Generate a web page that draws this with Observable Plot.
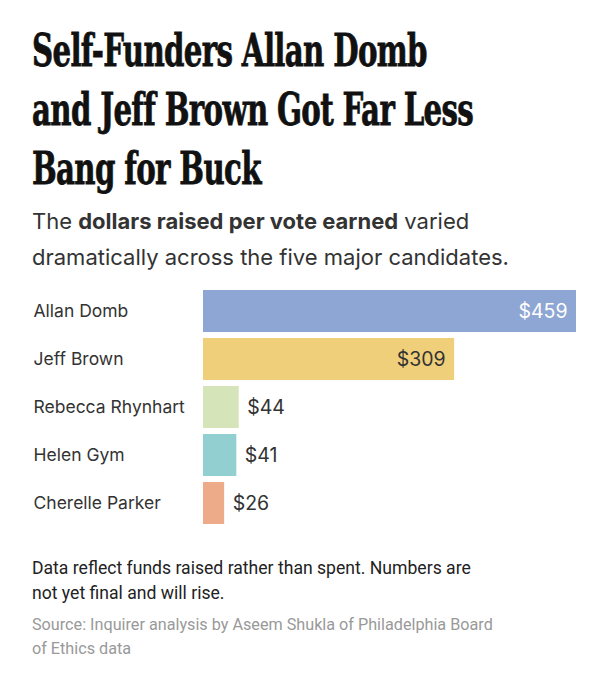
<!DOCTYPE html>
<html>
<head>
<meta charset="utf-8">
<script src="https://cdn.jsdelivr.net/npm/d3@7"></script>
<script src="https://cdn.jsdelivr.net/npm/@observablehq/plot@0.6"></script>
<style>
  html, body { margin: 0; padding: 0; background: #fff; }
  body { width: 608px; height: 680px; overflow: hidden; position: relative; font-family: Inter, "Noto Sans", sans-serif; }
  #title { position: absolute; left: 32px; top: 20.5px; width: 800px; margin: 0;
    font-family: "DejaVu Serif", serif; font-weight: bold; font-size: 44px; line-height: 59px; color: #111;
    -webkit-text-stroke: 0.8px #111;
    letter-spacing: -1px; transform: scaleX(0.665); transform-origin: 0 0; white-space: nowrap; }
  #subtitle { position: absolute; left: 32px; top: 203px; width: 570px; margin: 0;
    font-size: 22px; line-height: 36px; color: #333; white-space: nowrap; }
  #subtitle b { font-weight: 700; }
  #chart { position: absolute; left: 0; top: 270px; }
  #note { position: absolute; left: 32px; top: 556px; width: 570px; margin: 0; font-family: Roboto, sans-serif; font-size: 17.6px; line-height: 25px; color: #222; white-space: nowrap; }
  #source { position: absolute; left: 32px; top: 613px; width: 570px; margin: 0; font-family: Roboto, sans-serif; font-size: 16.2px; line-height: 24px; color: #999; white-space: nowrap; }
</style>
</head>
<body>
<h1 id="title">Self-Funders Allan Domb<br>and Jeff Brown Got Far Less<br>Bang for Buck</h1>
<p id="subtitle">The <b>dollars raised per vote earned</b> varied<br>dramatically across the five major candidates.</p>
<div id="chart"></div>
<p id="note">Data reflect funds raised rather than spent. Numbers are<br>not yet final and will rise.</p>
<p id="source">Source: Inquirer analysis by Aseem Shukla of Philadelphia Board<br>of Ethics data</p>
<script>
const candidates = ["Allan Domb", "Jeff Brown", "Rebecca Rhynhart", "Helen Gym", "Cherelle Parker"];
const dollarsPerVote = [459, 309, 44, 41, 26];
const barColors = ["#8ea6d3", "#f0cf7a", "#d5e5b9", "#92cfd1", "#edab8a"];
const valueLabelColors = ["#ffffff", "#333333", "#333333", "#333333", "#333333"];

const data = candidates.map((name, i) => ({
  name, value: dollarsPerVote[i], color: barColors[i], labelColor: valueLabelColors[i]
}));
const inside = data.filter(d => d.value >= 100);
const outside = data.filter(d => d.value < 100);

const chart = Plot.plot({
  width: 608,
  height: 270,
  marginLeft: 203,
  marginRight: 32,
  marginTop: 15.4,
  marginBottom: 12.6,
  style: { fontFamily: "Inter, 'Noto Sans', sans-serif", background: "transparent" },
  x: { domain: [0, 459], axis: null },
  y: { domain: candidates, axis: null, paddingInner: 0.13, paddingOuter: 0.065 },
  marks: [
    Plot.barX(data, { y: "name", x: "value", fill: "color" }),
    Plot.text(data, { y: "name", text: "name", frameAnchor: "left", dx: -170, textAnchor: "start", fontSize: 17.5, fill: "#333" }),
    Plot.text(inside, { y: "name", x: "value", text: d => "$" + d.value, textAnchor: "end", dx: -9, fontSize: 19.5, fill: "labelColor" }),
    Plot.text(outside, { y: "name", x: "value", text: d => "$" + d.value, textAnchor: "start", dx: 8, fontSize: 19.5, fill: "labelColor" })
  ]
});
document.getElementById("chart").appendChild(chart);
</script>
</body>
</html>
